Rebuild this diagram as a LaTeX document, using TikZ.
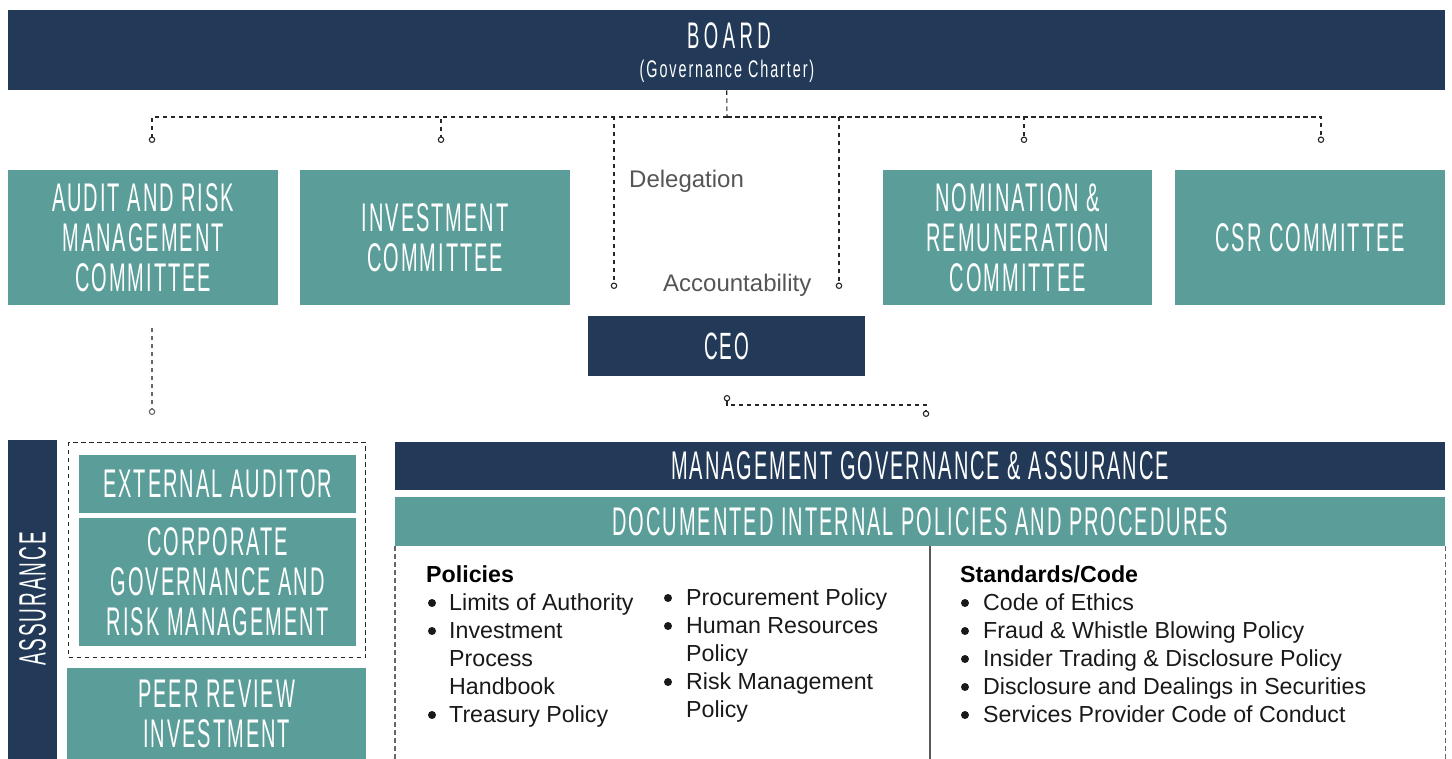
\documentclass[tikz,border=0pt]{standalone}
\usepackage{fontspec}
\setmainfont{Liberation Sans}
\newfontfamily\hfont[FakeStretch=0.5,LetterSpace=5]{Liberation Sans}
\newfontfamily\hfontb[FakeStretch=0.6,LetterSpace=8]{Liberation Sans}
\newfontfamily\hfontc[FakeStretch=0.5,LetterSpace=12]{Liberation Sans}
\usetikzlibrary{arrows.meta}
\definecolor{navy}{HTML}{223A57}
\definecolor{tealc}{HTML}{5B9E99}
\definecolor{lblc}{HTML}{555555}
\begin{document}
\begin{tikzpicture}[x=1pt,y=-1pt,
  box/.style={anchor=north west, inner sep=0pt, text=white, align=center,
    font=\hfont\fontsize{40}{40}\selectfont},
  dark/.style={box, fill=navy},
  lite/.style={box, fill=tealc},
  ring/.tip={Circle[length=6.5pt,width=6.5pt,fill=white,line width=1.1pt]},
  conn/.style={draw=black!85, line width=1.1pt, dash pattern=on 4.5pt off 3.5pt},
  conng/.style={draw=black!60, line width=1.1pt, dash pattern=on 4.5pt off 3.5pt},
  lbl/.style={anchor=base west, inner sep=0pt, text=lblc, font=\fontsize{24}{28}\selectfont},
  it/.style={anchor=base west, inner sep=0pt, text=black!90, font=\fontsize{23.2}{28}\selectfont},
  ith/.style={anchor=base west, inner sep=0pt, text=black, font=\bfseries\fontsize{23.2}{28}\selectfont},
  bul/.style={fill=black!90}
]
\useasboundingbox (0,0) rectangle (1452,759);

% Board
\node[dark, minimum width=1437pt, minimum height=80pt] (board) at (8,10) {};
\node[anchor=base, inner sep=0pt, text=white, font=\hfontc\fontsize{37}{37}\selectfont] (boardt) at (729,49) {BOARD};
\node[anchor=base, inner sep=0pt, text=white, font=\hfontb\fontsize{24}{24}\selectfont] (boards) at (727,78) {(Governance Charter)};

% Committees
\node[lite, minimum width=270pt, minimum height=135pt] (arc) at (8,170) {AUDIT AND RISK\\MANAGEMENT\\COMMITTEE};
\node[lite, minimum width=270pt, minimum height=135pt] (inv) at (300,170) {INVESTMENT\\COMMITTEE};
\node[lite, minimum width=269pt, minimum height=135pt] (nom) at (883,170) {NOMINATION \&\\REMUNERATION\\COMMITTEE};
\node[lite, minimum width=270pt, minimum height=135pt] (csr) at (1175,170) {CSR COMMITTEE};

% CEO
\node[dark, minimum width=277pt, minimum height=60pt, font=\hfont\fontsize{38}{38}\selectfont] (ceo) at (588,316) {CEO};

% labels
\node[lbl] (deleg) at (629,188) {Delegation};
\node[lbl] (acct) at (663,292) {Accountability};

% connectors from board
\coordinate (b0) at (727,117);
\coordinate (e1) at (152,143);
\coordinate (e2) at (441,143);
\coordinate (e3) at (614,289);
\coordinate (e4) at (839,289);
\coordinate (e5) at (1024,143);
\coordinate (e6) at (1321,143);
\draw[conn] (board.south) -- (b0);
\draw[conn,-{ring}] (b0) -| (e1);
\draw[conn,-{ring}] (b0) -| (e2);
\draw[conn,-{ring}] (b0) -| (e3);
\draw[conn,-{ring}] (b0) -| (e4);
\draw[conn,-{ring}] (b0) -| (e5);
\draw[conn,-{ring}] (b0) -| (e6);

% audit down
\coordinate (a1) at (152,328);
\coordinate (a2) at (152,415);
\draw[conng,-{ring}] (a1) -- (a2);

% CEO down
\coordinate (c1) at (727,395);
\coordinate (c2) at (926,417);
\draw[conn,{ring}-{ring}] (c1) -- ++(0,10) -| (c2);

% Assurance
\node[dark, minimum width=49pt, minimum height=319pt] (assb) at (8,440) {};
\node[inner sep=0pt, text=white, rotate=90, font=\hfont\fontsize{38}{38}\selectfont] (asst) at (32.5,599) {ASSURANCE};
\node[conn, anchor=north west, minimum width=297pt, minimum height=215pt, inner sep=0pt] (extbox) at (68,442) {};
\node[lite, minimum width=277pt, minimum height=58pt] (ext) at (79,455) {EXTERNAL AUDITOR};
\node[lite, minimum width=277pt, minimum height=128pt] (cgr) at (79,518) {CORPORATE\\GOVERNANCE AND\\RISK MANAGEMENT};
\node[lite, minimum width=299pt, minimum height=91pt] (peer) at (67,668) {PEER REVIEW\\INVESTMENT};

% Management
\node[dark, minimum width=1050pt, minimum height=48pt, font=\hfont\fontsize{40}{40}\selectfont] (mga) at (395,442) {MANAGEMENT GOVERNANCE \& ASSURANCE};
\node[lite, minimum width=1050pt, minimum height=49pt] (doc) at (395,497) {DOCUMENTED INTERNAL POLICIES AND PROCEDURES};
\draw[conng] (doc.south west) -- ++(0,213);
\draw[conng] (doc.south east) -- ++(0,213);
\coordinate (dv) at (930,546);
\draw[draw=black!65, line width=1.1pt] (dv) -- ++(0,213);

% Policies
\node[ith] (polh) at (426,582) {Policies};
\node[it] (p1) at (449,610) {Limits of Authority};
\node[it] (p2a) at (449,638) {Investment};
\node[it] (p2b) at (449,666) {Process};
\node[it] (p2c) at (449,694) {Handbook};
\node[it] (p3) at (449,722) {Treasury Policy};
\fill[bul] (432,603) circle (4pt);
\fill[bul] (432,631) circle (4pt);
\fill[bul] (432,715) circle (4pt);

\node[it] (q1) at (686,605) {Procurement Policy};
\node[it] (q2a) at (686,633) {Human Resources};
\node[it] (q2b) at (686,661) {Policy};
\node[it] (q3a) at (686,689) {Risk Management};
\node[it] (q3b) at (686,717) {Policy};
\fill[bul] (668,598) circle (4pt);
\fill[bul] (668,626) circle (4pt);
\fill[bul] (668,682) circle (4pt);

% Standards
\node[ith] (sth) at (960,582) {Standards/Code};
\node[it] (s1) at (983,610) {Code of Ethics};
\node[it] (s2) at (983,638) {Fraud \& Whistle Blowing Policy};
\node[it] (s3) at (983,666) {Insider Trading \& Disclosure Policy};
\node[it] (s4) at (983,694) {Disclosure and Dealings in Securities};
\node[it] (s5) at (983,722) {Services Provider Code of Conduct};
\foreach \yy in {603,631,659,687,715} \fill[bul] (965,\yy) circle (4pt);
\end{tikzpicture}
\end{document}
